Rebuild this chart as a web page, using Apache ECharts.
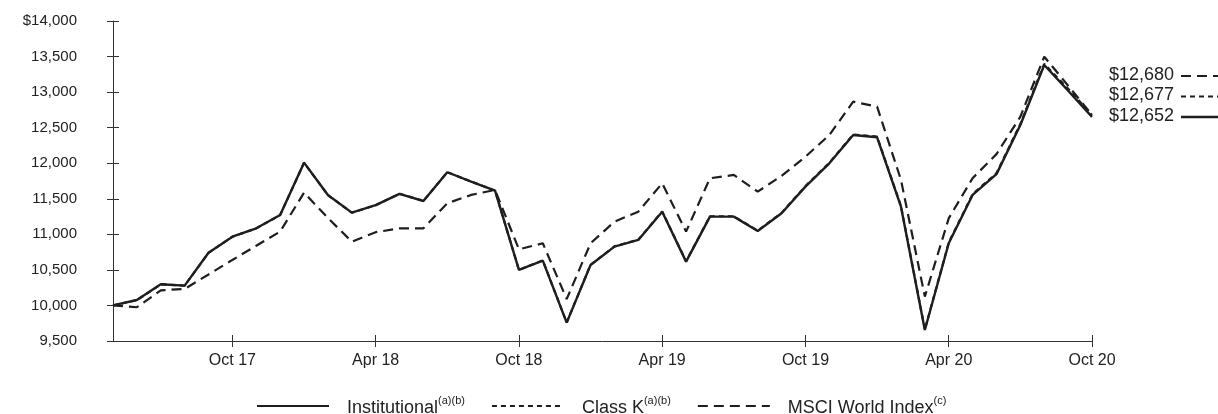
<!DOCTYPE html>
<html>
<head>
<meta charset="utf-8">
<script src="https://cdn.jsdelivr.net/npm/echarts@6/dist/echarts.min.js"></script>
<style>
html,body{margin:0;padding:0;background:#fff;}
#chart{width:1218px;height:414px;}
</style>
</head>
<body>
<div id="chart"></div>
<script>
var months = ["May 17","Jun 17","Jul 17","Aug 17","Sep 17","Oct 17","Nov 17","Dec 17",
  "Jan 18","Feb 18","Mar 18","Apr 18","May 18","Jun 18","Jul 18","Aug 18","Sep 18","Oct 18","Nov 18","Dec 18",
  "Jan 19","Feb 19","Mar 19","Apr 19","May 19","Jun 19","Jul 19","Aug 19","Sep 19","Oct 19","Nov 19","Dec 19",
  "Jan 20","Feb 20","Mar 20","Apr 20","May 20","Jun 20","Jul 20","Aug 20","Sep 20","Oct 20"];

var institutional = [10000,10077,10298,10279,10742,10967,11085,11272,12008,11553,11305,11410,11570,11469,11873,11741,11614,10499,10630,9758,10569,10827,10921,11319,10616,11249,11249,11047,11296,11671,11999,12397,12365,11389,9655,10874,11554,11847,12538,13381,13020,12652];

var classK = [10000,10075,10296,10278,10740,10966,11084,11271,12006,11552,11304,11409,11570,11470,11874,11742,11615,10500,10632,9760,10572,10830,10925,11323,10620,11254,11254,11052,11302,11678,12006,12405,12374,11398,9663,10884,11566,11860,12553,13398,13048,12677];

var msci = [10000,9975,10213,10232,10435,10640,10840,11038,11586,11230,10897,11030,11085,11085,11437,11554,11624,10790,10874,10090,10874,11178,11319,11718,11038,11788,11835,11600,11823,12092,12397,12866,12795,11765,10124,11225,11790,12128,12654,13498,13090,12680];

var seriesNames = ["Institutional", "Class K", "MSCI World Index"];
var seriesNotes = ["(a)(b)", "(a)(b)", "(c)"];
var endValues = ["$12,680", "$12,677", "$12,652"];

var yMin = 9500, yMax = 14000, yStep = 500;

function isTickMonth(i, v) { return v.indexOf("Oct") === 0 || v.indexOf("Apr") === 0; }

var axisColor = "#333";
var lineColor = "#1e1e1e";
var textColor = "#222";
var font = "'Liberation Sans', Arial, Helvetica, sans-serif";

var chart = echarts.init(document.getElementById("chart"), null, {renderer: "canvas"});

var option = {
  animation: false,
  textStyle: {fontFamily: font},
  grid: {left: 113, right: 126, top: 21, bottom: 73, containLabel: false},
  legend: {
    data: seriesNames,
    left: 256,
    top: 395,
    padding: 0,
    itemWidth: 72,
    itemHeight: 14,
    itemGap: 26,
    itemStyle: {opacity: 0, borderWidth: 0},
    formatter: function (name) {
      var idx = seriesNames.indexOf(name);
      return "{g|}{n|" + name + "}{s|" + seriesNotes[idx] + "}";
    },
    textStyle: {
      fontFamily: font,
      color: textColor,
      rich: {
        g: {width: 13},
        n: {fontSize: 18, lineHeight: 22, color: textColor, fontFamily: font, verticalAlign: "bottom"},
        s: {fontSize: 11, lineHeight: 22, color: textColor, fontFamily: font, verticalAlign: "top"}
      }
    }
  },
  xAxis: [
    {
      type: "category",
      data: months,
      boundaryGap: false,
      axisLine: {lineStyle: {color: axisColor, width: 1}},
      axisTick: {show: true, length: 6, interval: isTickMonth, lineStyle: {color: axisColor}},
      axisLabel: {interval: isTickMonth, fontSize: 16, color: textColor, margin: 12, fontFamily: font},
      splitLine: {show: false}
    },
    {
      type: "category",
      data: months,
      boundaryGap: false,
      position: "bottom",
      axisLine: {show: false},
      axisTick: {show: true, inside: true, length: 6, interval: isTickMonth, lineStyle: {color: axisColor}},
      axisLabel: {show: false},
      splitLine: {show: false}
    }
  ],
  yAxis: [
    {
      type: "value",
      min: yMin, max: yMax, interval: yStep,
      axisLine: {show: true, lineStyle: {color: axisColor, width: 1}},
      axisTick: {show: true, length: 6, lineStyle: {color: axisColor}},
      axisLabel: {
        fontSize: 15, color: textColor, margin: 36, fontFamily: font,
        formatter: function (v) { return (v === yMax ? "$" : "") + v.toLocaleString("en-US"); }
      },
      splitLine: {show: false}
    },
    {
      type: "value",
      position: "left",
      min: yMin, max: yMax, interval: yStep,
      axisLine: {show: false},
      axisTick: {show: true, inside: true, length: 6, lineStyle: {color: axisColor}},
      axisLabel: {show: false},
      splitLine: {show: false}
    }
  ],
  series: [
    {
      name: "MSCI World Index", type: "line", data: msci, symbol: "none", z: 2,
      lineStyle: {color: lineColor, width: 2.2, type: [10, 6]},
      itemStyle: {color: lineColor}
    },
    {
      name: "Class K", type: "line", data: classK, symbol: "none", z: 3,
      lineStyle: {color: lineColor, width: 2.2, type: [5, 4]},
      itemStyle: {color: lineColor}
    },
    {
      name: "Institutional", type: "line", data: institutional, symbol: "none", z: 4,
      lineStyle: {color: lineColor, width: 2.4, type: "solid"},
      itemStyle: {color: lineColor}
    }
  ],
  graphic: [
    {type: "text", left: 1109, top: 66, style: {text: endValues[0], font: "18px " + font, fill: textColor}},
    {type: "text", left: 1109, top: 86, style: {text: endValues[1], font: "18px " + font, fill: textColor}},
    {type: "text", left: 1109, top: 107, style: {text: endValues[2], font: "18px " + font, fill: textColor}},
    {type: "line", shape: {x1: 1181, y1: 76, x2: 1218, y2: 76}, style: {stroke: lineColor, lineWidth: 2.2, lineDash: [10, 6]}},
    {type: "line", shape: {x1: 1181, y1: 96.5, x2: 1218, y2: 96.5}, style: {stroke: lineColor, lineWidth: 2.2, lineDash: [5, 4]}},
    {type: "line", shape: {x1: 1181, y1: 117, x2: 1218, y2: 117}, style: {stroke: lineColor, lineWidth: 2.4}}
  ]
};

chart.setOption(option);
</script>
</body>
</html>
